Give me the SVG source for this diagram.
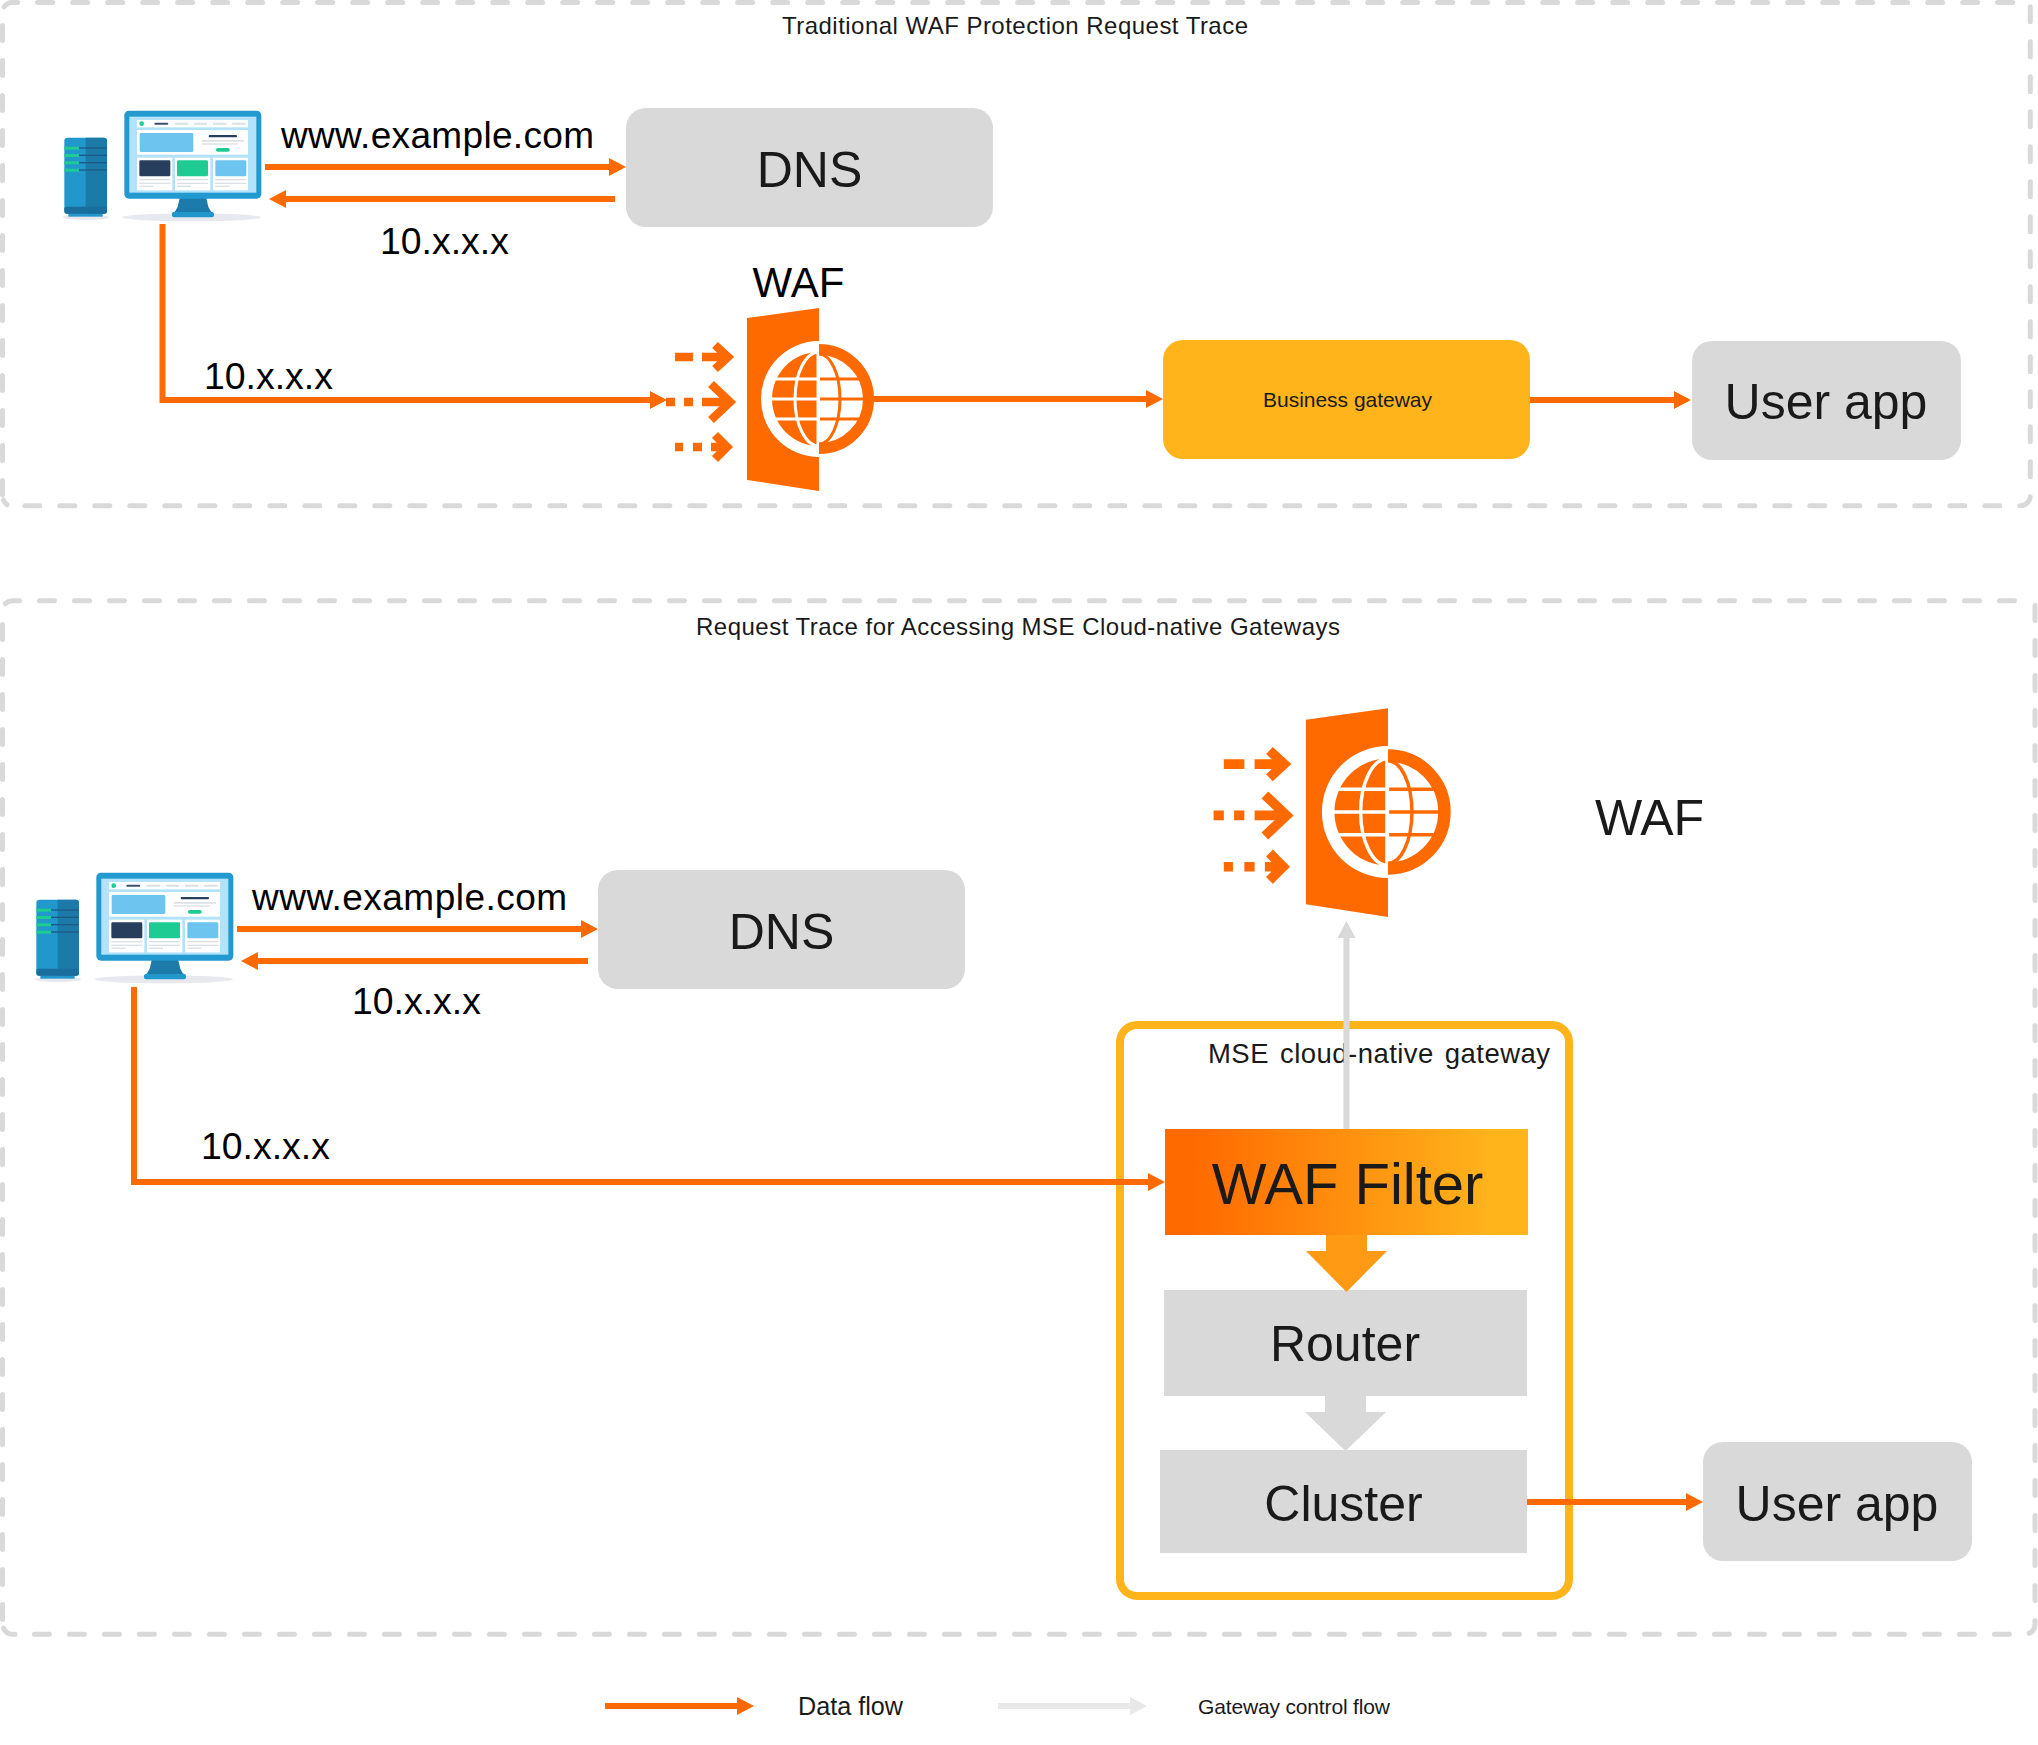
<svg xmlns="http://www.w3.org/2000/svg" xmlns:xlink="http://www.w3.org/1999/xlink" width="2038" height="1745" viewBox="0 0 2038 1745">
<style>
text{font-family:"Liberation Sans",Arial,sans-serif;fill:#1a1a1a}
.frame{fill:none;stroke:#d9d9d9;stroke-width:5;stroke-dasharray:15 20;stroke-linecap:round}
.grey{fill:#d9d9d9}
.mid{text-anchor:middle}
.k{fill:#000}
.o{fill:none;stroke:#ff6a00;stroke-width:6}
.g{fill:none;stroke:#d9d9d9;stroke-width:6}
.ar{fill:#ff6a00}
.as{fill:none;stroke:#ff6a00;stroke-width:8.500}
.wl{fill:none;stroke:#fff;stroke-width:3}
.ol{fill:none;stroke:#ff6a00;stroke-width:3}
</style>
<defs>
<linearGradient id="wf" gradientUnits="userSpaceOnUse" x1="1165" y1="0" x2="1528" y2="0"><stop offset="0.08" stop-color="#ff6a00"/><stop offset="0.9" stop-color="#ffb41c"/></linearGradient>
<marker id="mo" markerUnits="userSpaceOnUse" markerWidth="18" markerHeight="18" viewBox="0 0 18 18" refX="7" refY="9" orient="auto"><path d="M0 0L17 9L0 18z" fill="#ff6a00"/></marker>
<marker id="mg" markerUnits="userSpaceOnUse" markerWidth="18" markerHeight="18" viewBox="0 0 18 18" refX="7" refY="9" orient="auto"><path d="M0 0L17 9L0 18z" fill="#d9d9d9"/></marker>
<marker id="ml" markerUnits="userSpaceOnUse" markerWidth="18" markerHeight="18" viewBox="0 0 18 18" refX="7" refY="9" orient="auto"><path d="M0 0L17 9L0 18z" fill="#e8e8e8"/></marker>
<clipPath id="cl"><rect x="-60" y="-60" width="60" height="120"/></clipPath>
<clipPath id="cr"><rect x="0" y="-60" width="60" height="120"/></clipPath>
<g id="client" transform="translate(40 90) scale(.33333)">
<ellipse cx="138" cy="382" rx="70" ry="8" fill="#e8e8ef"/>
<rect x="85" y="366" width="103" height="14" fill="#2197cc"/>
<rect x="73" y="143" width="128" height="228" rx="10" fill="#2197cc"/>
<path d="M137 143H191a10 10 0 0 1 10 10V361a10 10 0 0 1-10 10H137z" fill="#1c7aa8"/>
<rect x="73" y="350" width="128" height="21" rx="6" fill="#1a6e9e"/>
<g fill="#1b5a85"><rect x="117" y="172" width="84" height="4"/><rect x="117" y="194" width="84" height="4"/><rect x="117" y="216" width="84" height="4"/><rect x="117" y="238" width="84" height="4"/></g>
<g fill="#1dcb93"><rect x="73" y="170" width="44" height="9"/><rect x="73" y="192" width="44" height="9"/><rect x="73" y="214" width="44" height="9"/><rect x="73" y="236" width="44" height="9"/></g>
<ellipse cx="455" cy="382" rx="208" ry="12" fill="#e8e8ef"/>
<path d="M420 320H498L505 350Q510 364 522 372H396Q408 364 413 350z" fill="#1c7bab"/>
<rect x="396" y="366" width="126" height="16" rx="6" fill="#2197cc"/>
<rect x="253" y="62" width="411" height="264" rx="14" fill="#2299cf"/>
<rect x="268" y="80" width="381" height="228" fill="#b3e3fa"/>
<g fill="#fff"><rect x="291" y="90" width="333" height="22"/><rect x="291" y="120" width="333" height="74"/><rect x="291" y="203" width="106" height="98"/><rect x="405" y="203" width="106" height="98"/><rect x="519" y="203" width="105" height="98"/></g>
<circle cx="305" cy="101" r="7" fill="#1dcb93"/>
<rect x="343" y="98" width="42" height="6" rx="3" fill="#3a5070"/>
<g fill="#dcdfe4"><rect x="403" y="98" width="42" height="6" rx="3"/><rect x="461" y="98" width="41" height="6" rx="3"/><rect x="518" y="98" width="42" height="6" rx="3"/><rect x="576" y="98" width="42" height="6" rx="3"/><rect x="485" y="150" width="127" height="5"/><rect x="485" y="160" width="108" height="4"/>
<rect x="298" y="267" width="93" height="4"/><rect x="298" y="278" width="93" height="4"/><rect x="298" y="287" width="42" height="4"/><rect x="411" y="267" width="93" height="4"/><rect x="411" y="278" width="93" height="4"/><rect x="411" y="287" width="42" height="4"/><rect x="526" y="267" width="93" height="4"/><rect x="526" y="278" width="93" height="4"/><rect x="526" y="287" width="42" height="4"/></g>
<rect x="299" y="129" width="161" height="57" rx="4" fill="#6cc4ef"/>
<rect x="506" y="135" width="85" height="7" rx="3" fill="#2a3f5c"/>
<rect x="528" y="174" width="41" height="11" rx="5" fill="#1dcb93"/>
<rect x="298" y="211" width="93" height="48" rx="4" fill="#273f5c"/>
<rect x="411" y="211" width="93" height="48" rx="4" fill="#1dcb93"/>
<rect x="526" y="211" width="93" height="48" rx="4" fill="#6cc4ef"/>
</g>
<g id="wafIcon">
<path class="ar" d="M-72-81L0-91V92L-72 81z"/>
<circle r="58" fill="#fff" clip-path="url(#cl)"/>
<g clip-path="url(#cl)"><circle r="47" class="ar"/><path class="wl" d="M-50-20H0M-50 0H0M-50 20H0"/><ellipse rx="24" ry="47" class="wl"/><path d="M-1-50V50" class="wl"/></g>
<g clip-path="url(#cr)"><circle r="49.500" fill="none" stroke="#ff6a00" stroke-width="11"/><path class="ol" d="M1-20H40M1 0H45M1 20H40"/><ellipse rx="21" ry="45" class="ol"/></g>
<path class="as" d="M-144-42H-126M-117-42H-93M-104-54L-91-42L-104-30"/>
<path class="as" d="M-153 3H-144M-135 3H-126M-117 3H-91M-108-15L-89 3L-108 21"/>
<path class="as" d="M-144 48H-136M-126 48H-117M-108 48H-94M-104 36L-92 48L-104 60"/>
</g>
</defs>

<g id="frame-traditional"><path class="frame" d="M4.100 7A10 10 0 0 1 12.500 2.500H2013M2030.300 6.800V495.700A10 10 0 0 1 2020.300 505.700H22M2.500 25.500V495M3.500 500A10 10 0 0 0 7 504.700"/><text x="782" y="34" font-size="24" textLength="466">Traditional WAF Protection Request Trace</text></g>
<g id="frame-mse"><path class="frame" d="M5.300 603.800A10 10 0 0 1 12.500 600.700H2018M2035 605.500V1624.300A10 10 0 0 1 2025 1634.300H25M2.500 624.500V1620M3.500 1628A10 10 0 0 0 12.500 1634.300H15"/><text x="696" y="635" font-size="24" textLength="644">Request Trace for Accessing MSE Cloud-native Gateways</text></g>

<g id="client-1"><use href="#client"/></g>
<g id="client-2"><use href="#client" x="-28" y="762"/></g>
<g id="dns-1"><rect class="grey" x="626" y="108" width="367" height="119" rx="20"/><text class="mid" x="809.500" y="187" font-size="50">DNS</text></g>
<g id="waf-1"><use href="#wafIcon" transform="translate(819 399)"/><text class="mid k" x="798.500" y="297" font-size="42">WAF</text></g>
<g id="business-gateway"><rect x="1163" y="340" width="367" height="119" rx="20" fill="#ffb41c"/><text class="mid" x="1347.500" y="407" font-size="21" textLength="169">Business gateway</text></g>
<g id="user-app-1"><rect class="grey" x="1692" y="341" width="269" height="119" rx="20"/><text class="mid" x="1826" y="419" font-size="50">User app</text></g>
<g id="dns-2"><rect class="grey" x="598" y="870" width="367" height="119" rx="20"/><text class="mid" x="781.500" y="949" font-size="50">DNS</text></g>
<g id="waf-2"><use href="#wafIcon" transform="translate(1388 812) scale(1.14)"/><text class="mid" x="1649.500" y="835" font-size="50">WAF</text></g>
<g id="mse-gateway"><rect x="1120" y="1025" width="449" height="571" rx="17" fill="none" stroke="#ffb41c" stroke-width="8"/><text x="1208" y="1063" font-size="27.500" word-spacing="3" textLength="342">MSE cloud-native gateway</text></g>
<g id="waf-filter"><rect x="1165" y="1129" width="363" height="106" fill="url(#wf)"/><text class="mid" x="1347.500" y="1204" font-size="58">WAF Filter</text></g>
<g id="router"><rect class="grey" x="1164" y="1290" width="363" height="106"/><text class="mid" x="1345" y="1361" font-size="50">Router</text></g>
<g id="cluster"><rect class="grey" x="1160" y="1450" width="367" height="103"/><text class="mid" x="1343.500" y="1521" font-size="50">Cluster</text></g>
<g id="user-app-2"><rect class="grey" x="1703" y="1442" width="269" height="119" rx="20"/><text class="mid" x="1837" y="1521" font-size="50">User app</text></g>

<g id="connectors">
<path class="o" d="M265 167H616" marker-end="url(#mo)"/>
<path class="o" d="M615 199H279" marker-end="url(#mo)"/>
<path class="o" d="M162.500 224V400H657" marker-end="url(#mo)"/>
<path class="o" d="M873 399H1153" marker-end="url(#mo)"/>
<path class="o" d="M1530 400H1681" marker-end="url(#mo)"/>
<path class="o" d="M237 929H588" marker-end="url(#mo)"/>
<path class="o" d="M588 961H251" marker-end="url(#mo)"/>
<path class="o" d="M134 987V1182H1155" marker-end="url(#mo)"/>
<path class="o" d="M1527 1502H1693" marker-end="url(#mo)"/>
<path class="g" d="M1346.500 1129V931" marker-end="url(#mg)"/>
<path d="M1326 1235H1367V1251H1387L1346.500 1292L1306 1251H1326z" fill="#ff9a15"/>
<path d="M1325 1396H1366V1412H1386L1345.500 1451L1305 1412H1325z" fill="#d9d9d9"/>
</g>

<g id="legend">
<path class="o" d="M605 1706H744" marker-end="url(#mo)"/>
<text x="798" y="1715" font-size="25.200">Data flow</text>
<path class="g" style="stroke:#e8e8e8" d="M998 1706H1137" marker-end="url(#ml)"/>
<text x="1198" y="1714" font-size="21" textLength="192">Gateway control flow</text>
</g>

<g id="labels">
<text class="k" x="281" y="148" font-size="37" textLength="313">www.example.com</text>
<text class="k" x="380" y="254" font-size="37.400">10.x.x.x</text>
<text class="k" x="204" y="389" font-size="37.400">10.x.x.x</text>
<text class="k" x="252" y="910" font-size="37" textLength="315">www.example.com</text>
<text class="k" x="352" y="1014" font-size="37.400">10.x.x.x</text>
<text class="k" x="201" y="1159" font-size="37.400">10.x.x.x</text>
</g>
</svg>
